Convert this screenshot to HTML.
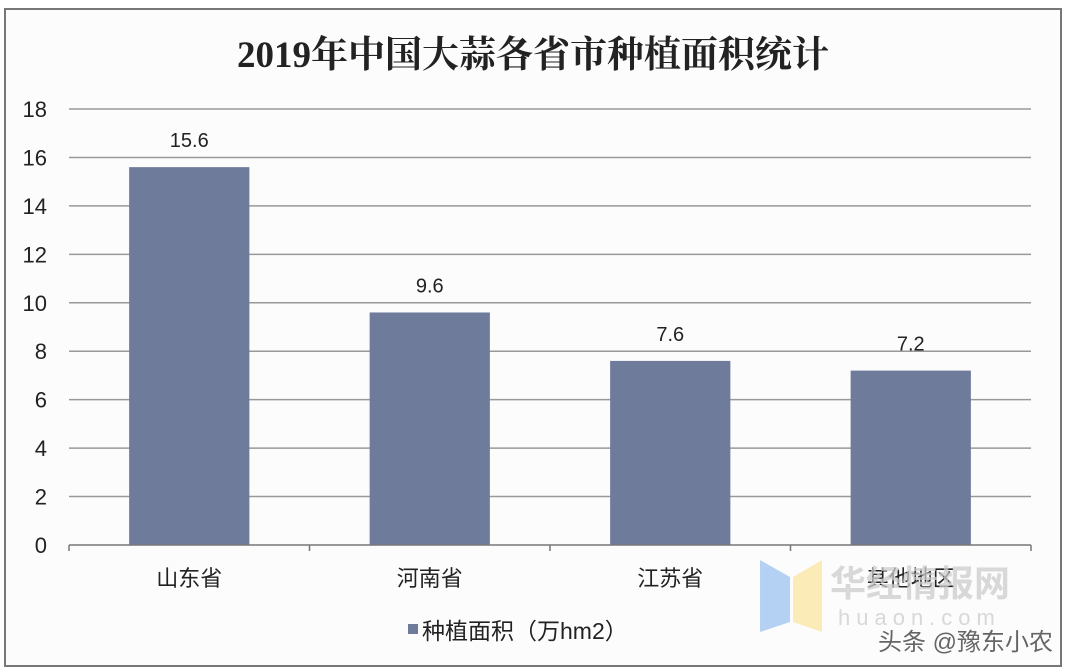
<!DOCTYPE html>
<html><head><meta charset="utf-8"><style>
html,body{margin:0;padding:0;background:#fff;}
svg{display:block;}
text{font-family:"Liberation Sans","Noto Sans CJK SC",sans-serif;}
</style></head><body>
<svg id="chart" width="1068" height="672" viewBox="0 0 1068 672">
<rect x="5" y="9" width="1056" height="657" fill="#fdfcfd" stroke="#777" stroke-width="2"/>
<text x="533" y="67" text-anchor="middle" font-size="37" font-weight="bold" fill="#222" style="font-family:'Liberation Serif','Noto Serif CJK SC',serif">2019年中国大蒜各省市种植面积统计</text>
<g id="grid"></g><g id="bars"></g><g id="axes"></g>
<g>
<rect x="408" y="624" width="10" height="10" fill="#6e7b9b"/>
<text x="422" y="639" font-size="23" fill="#222">种植面积（万hm2）</text>
</g>
<g opacity="0.75">
<polygon points="760,560 790,577 790,622 760,632" fill="#9cc3f0"/>
<polygon points="793,577 822,560 822,632 793,622" fill="#fbe6a0"/>
<text x="830" y="596" font-size="36" font-weight="bold" fill="#ccc">华经情报网</text>
<text x="838" y="625" font-size="22" fill="#ccc" letter-spacing="6">huaon.com</text>
<text x="878" y="650" font-size="24" fill="#333">头条 @豫东小农</text>
</g>
</svg>
<script>
const categories=["山东省","河南省","江苏省","其他地区"];
const values=[15.6,9.6,7.6,7.2];
const valueLabels=["15.6","9.6","7.6","7.2"];
const yTicks=[0,2,4,6,8,10,12,14,16,18];
const NS="http://www.w3.org/2000/svg";
const x0=69,x1=1031,yBase=545,yTop=109,yMax=18;
const y=v=>yBase-(yBase-yTop)*v/yMax;
const band=(x1-x0)/categories.length;
const bx=i=>x0+band*i;
function mk(tag,attrs,parent,txt){const e=document.createElementNS(NS,tag);for(const k in attrs)e.setAttribute(k,attrs[k]);if(txt!==undefined)e.textContent=txt;document.getElementById(parent).appendChild(e);return e;}
yTicks.forEach(t=>{
  if(t>0){const l=mk('line',{x1:x0,x2:x1,y1:y(t),y2:y(t),stroke:'#999','stroke-width':1.5},'grid');
  
  }
  const tx=mk('text',{x:47,y:y(t)+8,'text-anchor':'end','font-size':22,fill:'#222'},'axes',String(t));
  
  
});
const ax=mk('line',{x1:x0,x2:x1,y1:yBase,y2:yBase,stroke:'#777','stroke-width':1.5},'axes');


for(let i=0;i<=categories.length;i++){
  const tk=mk('line',{x1:bx(i),x2:bx(i),y1:yBase,y2:yBase+6,stroke:'#777','stroke-width':1.5},'axes');
  
  
}
categories.forEach((c,i)=>{
  const w=band*0.5,cx=bx(i)+band/2;
  const r=mk('rect',{x:cx-w/2,y:y(values[i]),width:w,height:yBase-y(values[i]),fill:'#6e7b9b'},'bars');
  
  
  const vl=mk('text',{x:cx,y:y(values[i])-20,'text-anchor':'middle','font-size':20,fill:'#222'},'bars',valueLabels[i]);
  
  
  const cl=mk('text',{x:cx,y:586,'text-anchor':'middle','font-size':22,fill:'#222'},'axes',c);
  
  
});
</script>
</body></html>
